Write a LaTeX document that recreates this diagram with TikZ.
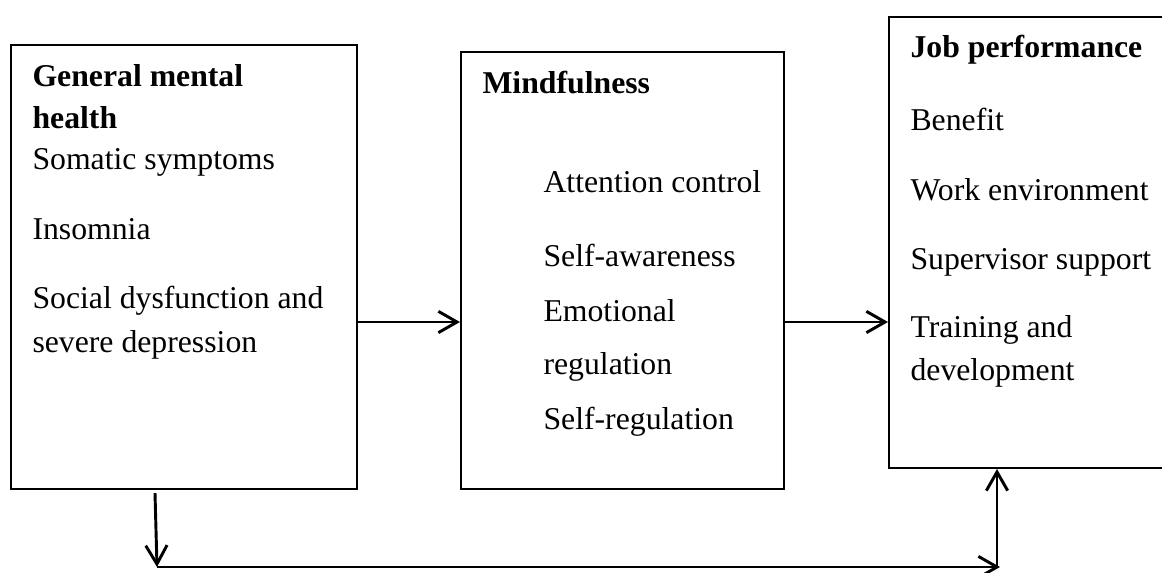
\documentclass[tikz,border=0pt]{standalone}
\usepackage{fontspec}
\setmainfont{Liberation Serif}
\usetikzlibrary{arrows.meta,fit}

\begin{document}
\begin{tikzpicture}[x=0.375pt,y=-0.375pt,
  box/.style={draw,line width=0.75pt,inner sep=0pt},
  item/.style={anchor=base west,inner sep=0pt,font=\fontsize{11.9pt}{14pt}\selectfont},
  arr/.style={line width=1.1pt,-{Straight Barb[length=7pt,width=8pt,line width=1.1pt]}}]
\useasboundingbox (0,0) rectangle (1162,572);
% the three boxes
\node[box,fit={(11,45) (357,489)}] (gmh) {};
\node[box,fit={(461,52) (784,489)}] (mind) {};
\node[box,fit={(889,17) (1180,468)}] (jp) {};
% box texts
\foreach \x/\y/\txt [count=\k] in {32/86/\textbf{General mental},32/128/\textbf{health},
  32/169/Somatic symptoms,32/239/Insomnia,32/308/Social dysfunction and,32/352/severe depression}
  {\node[item] (gmh-\k) at (\x,\y) {\txt};}
\foreach \x/\y/\txt [count=\k] in {482/93/\textbf{Mindfulness},543/192/Attention control,
  543/266/Self-awareness,543/321/Emotional,543/374/regulation,543/429/Self-regulation}
  {\node[item] (mind-\k) at (\x,\y) {\txt};}
\foreach \x/\y/\txt [count=\k] in {910/57/\textbf{Job performance},910/130/Benefit,
  910/200/Work environment,910/269/Supervisor support,910/337/Training and,910/380/development}
  {\node[item] (jp-\k) at (\x,\y) {\txt};}
% connectors
\coordinate (mid) at (0,322);
\coordinate (start) at (155,493);
\coordinate (c1) at (157,567);
\coordinate (c2) at (1000,567);
\coordinate (c3) at (997,567);
\draw[arr] (gmh.east |- mid) -- (mind.west |- mid);
\draw[arr] (mind.east |- mid) -- (jp.west |- mid);
\draw[arr] (start) -- (c1);
\draw[arr] (c1) -- (c2);
\draw[arr] (c3) -- (jp.south -| c3);
\end{tikzpicture}
\end{document}
